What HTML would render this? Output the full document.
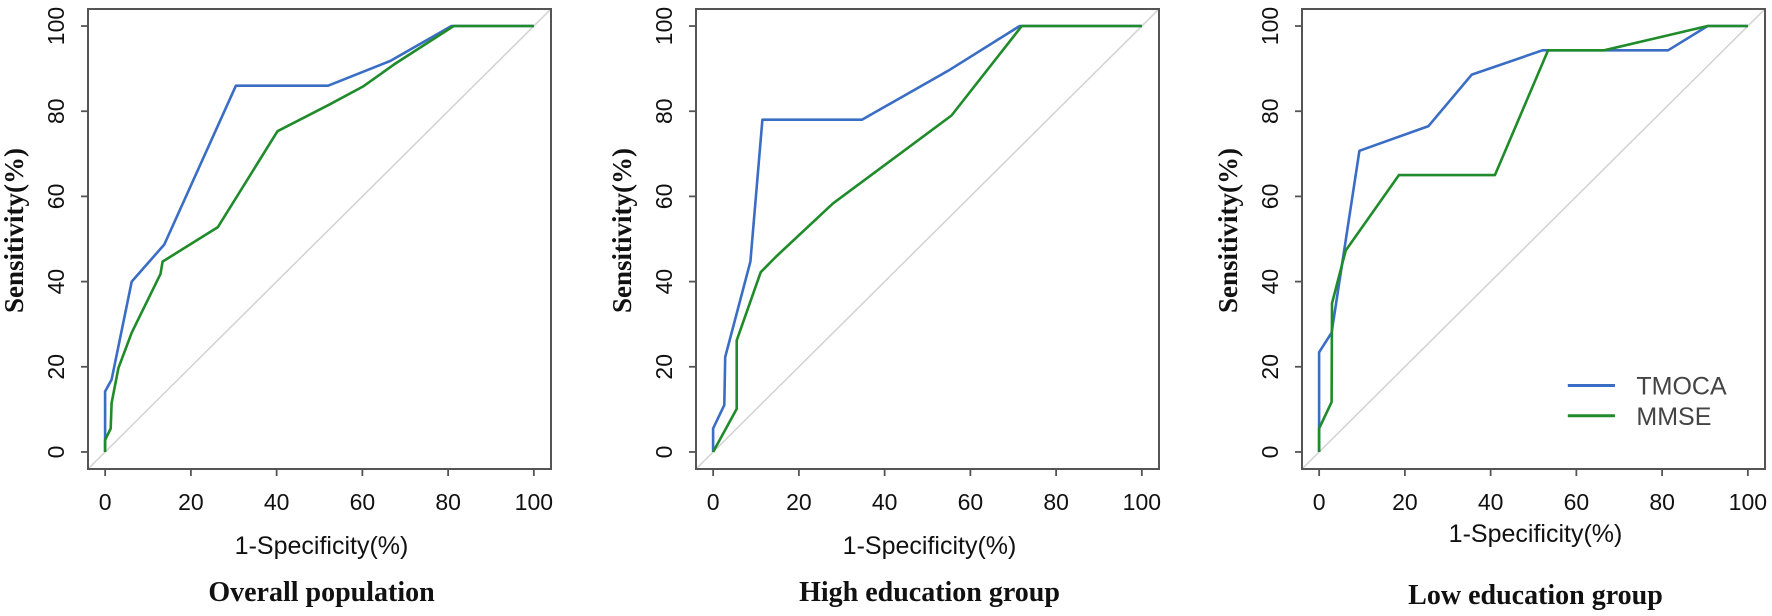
<!DOCTYPE html>
<html><head><meta charset="utf-8">
<style>
html,body{margin:0;padding:0;background:#fff;}
svg{display:block;}
</style></head>
<body>
<svg id="chart" width="1772" height="616" viewBox="0 0 1772 616" xmlns="http://www.w3.org/2000/svg"></svg>
<script>
const panelTitles = ["Overall population", "High education group", "Low education group"];
const xTicks = [0, 20, 40, 60, 80, 100];
const yTicks = [0, 20, 40, 60, 80, 100];
const seriesNames = ["TMOCA", "MMSE"];
// Panel 1 - Overall population
const p1TmocaX = [0, 0, 1.5, 6.2, 13.8, 30.5, 52, 66.5, 80.8, 100];
const p1TmocaY = [0, 14.2, 17, 40, 48.7, 86, 86, 91.8, 100, 100];
const p1MmseX = [0, 0, 1.3, 1.5, 3.1, 6.2, 12.9, 13.4, 26.3, 40.2, 52.2, 60.3, 67.4, 81.3, 100];
const p1MmseY = [0, 2.8, 5.5, 11.5, 19.7, 28, 41.8, 44.7, 52.8, 75.3, 81.5, 85.9, 91, 100, 100];
// Panel 2 - High education group
const p2TmocaX = [0, 0, 2.6, 2.8, 8.7, 11.5, 34.7, 54.8, 71.5, 100];
const p2TmocaY = [0, 5.5, 11, 22.3, 44.7, 78, 78, 89.5, 100, 100];
const p2MmseX = [0, 5.5, 5.5, 11.1, 14.7, 27.9, 55.6, 72, 100];
const p2MmseY = [0, 10.1, 26.2, 42.2, 45.9, 58.3, 79, 100, 100];
// Panel 3 - Low education group
const p3TmocaX = [0, 0, 2.9, 9.4, 25.5, 35.6, 52.1, 81.4, 90.6, 100];
const p3TmocaY = [0, 23.4, 28, 70.7, 76.5, 88.6, 94.3, 94.3, 100, 100];
const p3MmseX = [0, 0, 2.9, 3, 6.2, 18.6, 41, 53.4, 66.5, 90.6, 100];
const p3MmseY = [0, 5.5, 11.7, 34.9, 47.3, 65, 65, 94.3, 94.3, 100, 100];

const panelData = [
  [[p1TmocaX, p1TmocaY], [p1MmseX, p1MmseY]],
  [[p2TmocaX, p2TmocaY], [p2MmseX, p2MmseY]],
  [[p3TmocaX, p3TmocaY], [p3MmseX, p3MmseY]]
];

const NS = "http://www.w3.org/2000/svg";
const svg = document.getElementById("chart");
const colors = ["#3a6dc4", "#1f8b2a"];
const boxLefts = [88, 696, 1302];
const boxTop = 9, boxW = 463, boxH = 460;
const xlabelY = [554, 554, 542];
const titleY = [601, 601, 604];

function mk(tag, attrs, parent) {
  const e = document.createElementNS(NS, tag);
  for (const k in attrs) e.setAttribute(k, attrs[k]);
  (parent || svg).appendChild(e);
  return e;
}

panelTitles.forEach((title, pi) => {
  const L = boxLefts[pi];
  const xs = v => L + (v + 4) / 108 * boxW;
  const ys = v => boxTop + boxH - (v + 4) / 108 * boxH;
  const g = mk("g", {});
  
  

  const diag = mk("line", {x1: xs(-4), y1: ys(-4), x2: xs(104), y2: ys(104), stroke: "#d2d2d2", "stroke-width": 1.5}, g);
  
  

  panelData[pi].forEach((s, si) => {
    const pts = s[0].map((x, i) => xs(x).toFixed(1) + "," + ys(s[1][i]).toFixed(1)).join(" ");
    const pl = mk("polyline", {points: pts, fill: "none", stroke: colors[si], "stroke-width": 2.6, "stroke-linejoin": "round"}, g);
    
    
  });

  const box = mk("rect", {x: L, y: boxTop, width: boxW, height: boxH, fill: "none", stroke: "#555", "stroke-width": 2}, g);
  
  

  const base = boxTop + boxH;
  const xa = mk("g", {}, g);
  
  
  xTicks.forEach(t => {
    mk("line", {x1: xs(t), y1: base, x2: xs(t), y2: base + 7, stroke: "#555", "stroke-width": 1.8}, xa);
    const tx = mk("text", {x: xs(t), y: 510, "text-anchor": "middle", "font-family": "Liberation Sans, sans-serif", "font-size": 23, fill: "#111"}, xa);
    tx.textContent = t;
    
    
  });
  const ya = mk("g", {}, g);
  
  
  yTicks.forEach(t => {
    mk("line", {x1: L, y1: ys(t), x2: L - 7, y2: ys(t), stroke: "#555", "stroke-width": 1.8}, ya);
    const cx = L - 24;
    const tx = mk("text", {x: cx, y: ys(t), "text-anchor": "middle", "font-family": "Liberation Sans, sans-serif", "font-size": 23, fill: "#111", transform: "rotate(-90 " + cx + " " + ys(t) + ")"}, ya);
    tx.textContent = t;
    
    
  });

  const ylx = xs(0) - 82, yly = ys(52);
  const yl = mk("text", {x: ylx, y: yly, "text-anchor": "middle", "font-family": "Liberation Serif, serif", "font-weight": "bold", "font-size": 27, fill: "#111", transform: "rotate(-90 " + ylx + " " + yly + ")"}, g);
  yl.textContent = "Sensitivity(%)";
  
  

  const xl = mk("text", {x: L + boxW / 2 + 2, y: xlabelY[pi], "text-anchor": "middle", "font-family": "Liberation Sans, sans-serif", "font-size": 25, fill: "#111"}, g);
  xl.textContent = "1-Specificity(%)";
  
  

  const tt = mk("text", {x: L + boxW / 2 + 2, y: titleY[pi], "text-anchor": "middle", "font-family": "Liberation Serif, serif", "font-weight": "bold", "font-size": 28, fill: "#111"}, g);
  tt.textContent = title;
  
  

  if (pi === 2) {
    const lg = mk("g", {}, g);
    
    
    const legY = [15.6, 8.5];
    seriesNames.forEach((n, si) => {
      const ln = mk("line", {x1: xs(58), y1: ys(legY[si]), x2: xs(69), y2: ys(legY[si]), stroke: colors[si], "stroke-width": 3}, lg);
      
      
      const lt = mk("text", {x: xs(74), y: ys(legY[si]) + 9, "font-family": "Liberation Sans, sans-serif", "font-size": 25, fill: "#444"}, lg);
      lt.textContent = n;
      
      
    });
  }
});
</script>
</body></html>
